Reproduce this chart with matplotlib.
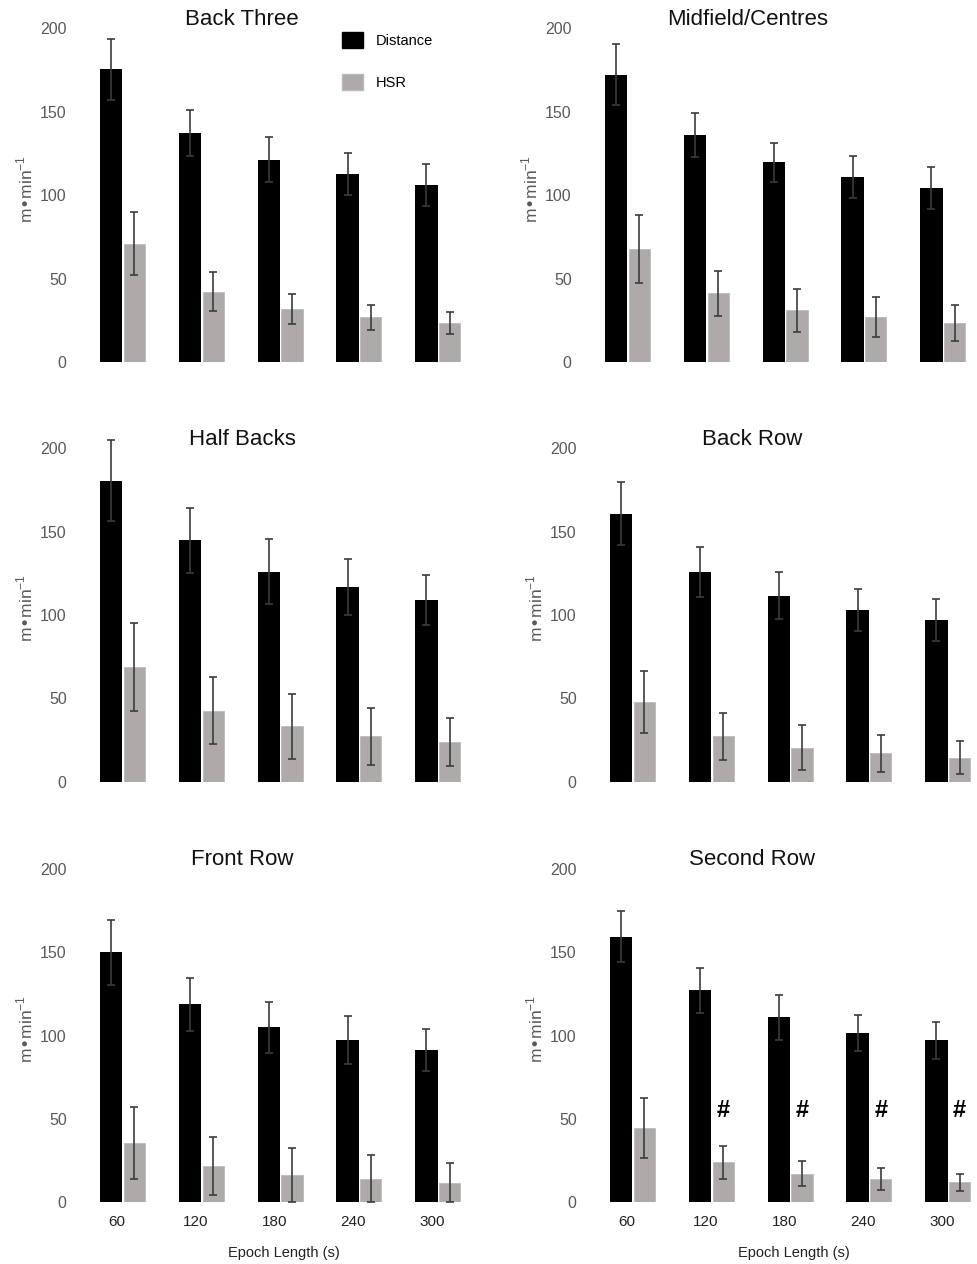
import numpy as np
import matplotlib
matplotlib.use("Agg")
import matplotlib.pyplot as plt
from matplotlib.patches import Patch

plt.rcParams['font.family'] = ['Liberation Sans', 'DejaVu Sans']

# ---------------- data ----------------
positions = ["Back Three", "Midfield/Centres", "Half Backs", "Back Row", "Front Row", "Second Row"]
epochs = ["60", "120", "180", "240", "300"]

back_three_dist = [175.6, 137.5, 121.3, 112.9, 106.1]
back_three_dist_sd = [18.2, 13.7, 13.6, 12.6, 12.6]
back_three_hsr = [70.9, 42.1, 31.8, 26.8, 23.4]
back_three_hsr_sd = [18.8, 11.6, 9.1, 7.6, 6.8]

midfield_dist = [172.3, 135.9, 119.7, 111.1, 104.3]
midfield_dist_sd = [18.2, 13.2, 11.6, 12.6, 12.8]
midfield_hsr = [67.7, 41.2, 31.0, 26.8, 23.4]
midfield_hsr_sd = [20.2, 13.5, 12.8, 12.0, 11.0]

half_backs_dist = [180.6, 144.8, 126.0, 116.8, 109.0]
half_backs_dist_sd = [24.4, 19.4, 19.6, 16.8, 15.0]
half_backs_hsr = [68.8, 42.6, 33.2, 27.2, 23.8]
half_backs_hsr_sd = [26.4, 20.2, 19.4, 17.0, 14.4]

back_row_dist = [160.8, 126.0, 111.6, 103.0, 97.0]
back_row_dist_sd = [18.8, 15.0, 14.2, 12.4, 12.4]
back_row_hsr = [47.6, 27.2, 20.4, 17.0, 14.4]
back_row_hsr_sd = [18.6, 14.2, 13.4, 11.0, 10.0]

front_row_dist = [150.0, 118.8, 105.0, 97.4, 91.4]
front_row_dist_sd = [19.4, 16.0, 15.4, 14.4, 12.6]
front_row_hsr = [35.8, 21.6, 16.4, 13.8, 11.4]
front_row_hsr_sd = [21.6, 17.4, 16.2, 14.4, 12.0]

second_row_dist = [159.4, 127.2, 111.0, 101.6, 97.2]
second_row_dist_sd = [15.2, 13.4, 13.4, 10.8, 11.0]
second_row_hsr = [44.4, 24.0, 17.2, 13.8, 12.0]
second_row_hsr_sd = [18.0, 10.0, 7.6, 6.6, 5.2]

second_row_marks = ["", "#", "#", "#", "#"]

dist_all = [back_three_dist, midfield_dist, half_backs_dist, back_row_dist, front_row_dist, second_row_dist]
dist_sd_all = [back_three_dist_sd, midfield_dist_sd, half_backs_dist_sd, back_row_dist_sd, front_row_dist_sd, second_row_dist_sd]
hsr_all = [back_three_hsr, midfield_hsr, half_backs_hsr, back_row_hsr, front_row_hsr, second_row_hsr]
hsr_sd_all = [back_three_hsr_sd, midfield_hsr_sd, half_backs_hsr_sd, back_row_hsr_sd, front_row_hsr_sd, second_row_hsr_sd]

# ---------------- figure ----------------
FW, FH = 978, 1264
fig = plt.figure(figsize=(FW / 100, FH / 100), dpi=100)

ax_w = 382 / FW
ax_h = 333.5 / FH
lefts_px = [83.3, 588.3, 83.3, 593.3, 83.3, 593.3]
bottoms_px = [362, 362, 781.7, 781.7, 1202.3, 1202.3]

black = "#000000"
gray = "#AEAAAA"
err_col = "#3c3c3c"
tick_col = "#595959"

for k in range(6):
    ax = fig.add_axes([lefts_px[k] / FW, (FH - bottoms_px[k]) / FH, ax_w, ax_h])
    x = np.arange(len(epochs))
    xd = x - 0.145
    xh = x + 0.15
    ax.bar(xd, dist_all[k], width=0.285, color=black, zorder=2)
    ax.bar(xh, hsr_all[k], width=0.27, color=gray, edgecolor="#bdbaba", linewidth=0.6, zorder=2)
    for xs, vals, sds in ((xd, dist_all[k], dist_sd_all[k]), (xh, hsr_all[k], hsr_sd_all[k])):
        lo = np.minimum(np.array(sds), np.array(vals))
        eb = ax.errorbar(xs, vals, yerr=[lo, sds], fmt="none", ecolor=err_col,
                         elinewidth=1.2, capsize=3.2, capthick=1.2, zorder=3)
        for art in eb.lines[1] + eb.lines[2]:
            art.set_clip_on(False)

    ax.set_xlim(-0.5, 4.35)
    ax.set_ylim(0, 200)
    ax.set_yticks([0, 50, 100, 150, 200])
    for s in ax.spines.values():
        s.set_visible(False)
    ax.tick_params(axis="y", length=0, pad=12, labelsize=11.5, labelcolor=tick_col)

    if k >= 4:
        ax.set_xticks(x - 0.07)
        ax.set_xticklabels(epochs)
        ax.tick_params(axis="x", length=0, pad=9, labelsize=11, labelcolor="#222222")
        ax.text(0.525, -0.152, "Epoch Length (s)", transform=ax.transAxes,
                ha="center", va="center", fontsize=10.5, color="#222222")
    else:
        ax.set_xticks([])

    ax.text(0.416, 1.027, positions[k], transform=ax.transAxes, ha="center",
            va="center", fontsize=16, color="#111111")
    ax.text(-0.153, 0.52, "m\u2022min$^{\\mathregular{-1}}$", transform=ax.transAxes,
            rotation=90, ha="center", va="center", fontsize=12.5, color=tick_col)

    if k == 5:
        for i, m in enumerate(second_row_marks):
            if m:
                ax.text(xh[i], 55, m, ha="center", va="center", fontsize=17,
                        fontweight="bold", color="black")

    if k == 0:
        handles = [Patch(facecolor=black, edgecolor=black, label="Distance"),
                   Patch(facecolor=gray, edgecolor="#bdbaba", label="HSR")]
        ax.legend(handles=handles, loc="upper left", bbox_to_anchor=(0.676, 0.99),
                  frameon=False, fontsize=10.5, handlelength=1.45, handleheight=1.35,
                  handletextpad=0.9, labelspacing=1.75, borderpad=0, borderaxespad=0)

fig.savefig("out.png", dpi=100)
